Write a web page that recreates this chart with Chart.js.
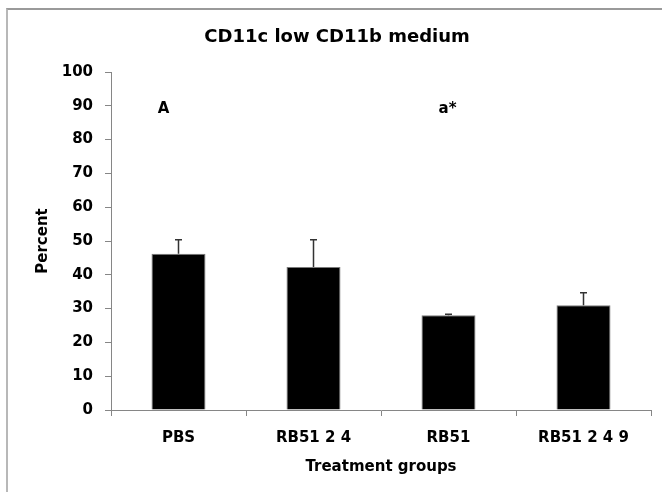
<!DOCTYPE html>
<html>
<head>
<meta charset="utf-8">
<script src="https://cdn.jsdelivr.net/npm/chart.js@4.4.1/dist/chart.umd.min.js"></script>
<style>
    body {
        margin: 0;
        background: #fff;
    }
    .frame {
        position: absolute;
        left: 6px;
        top: 8px;
        width: 700px;
        height: 520px;
        border-top: 2px solid #9a9a9a;
        border-left: 2px solid #b8b8b8;
    }
    .wrap {
        position: absolute;
        left: 0;
        top: 0;
        width: 662px;
        height: 492px;
    }
</style>
</head>
<body>
<div class="frame"></div>
<div class="wrap"><canvas id="graph-1"></canvas></div>
<script>
const groups = ["PBS", "RB51 2 4", "RB51", "RB51 2 4 9"];
const percent = [46.2, 42.3, 28.0, 31.0];
const stdErr = [4.2, 8.1, 0.3, 3.7];
const letters = ["A", "", "a*", ""];
const letterLevel = 89;
const yTicks = [0, 10, 20, 30, 40, 50, 60, 70, 80, 90, 100];
const chartTitle = "CD11c low CD11b medium";

const fontFamily = "'DejaVu Sans', sans-serif";
const axisColor = "#868686";

// upper error whiskers with a small cap
const errorBars = {
    id: "errorBars",
    afterDatasetsDraw(chart) {
        const { ctx } = chart;
        const meta = chart.getDatasetMeta(0);
        const y = chart.scales.y;
        ctx.save();
        ctx.strokeStyle = "#333";
        ctx.lineWidth = 1.5;
        meta.data.forEach((bar, i) => {
            const top = y.getPixelForValue(percent[i] + stdErr[i]);
            ctx.beginPath();
            ctx.moveTo(bar.x, bar.y);
            ctx.lineTo(bar.x, top);
            ctx.moveTo(bar.x - 3.5, top);
            ctx.lineTo(bar.x + 3.5, top);
            ctx.stroke();
        });
        ctx.restore();
    },
};

// chart heading + significance letters above the groups
const headings = {
    id: "headings",
    afterDraw(chart, args, opts) {
        const { ctx } = chart;
        const x = chart.scales.x;
        const y = chart.scales.y.getPixelForValue(letterLevel);
        ctx.save();
        ctx.fillStyle = "#000";
        ctx.textAlign = "center";
        ctx.textBaseline = "middle";

        ctx.font = "bold 18px " + fontFamily;
        ctx.fillText(chartTitle, opts.titleX, opts.titleY);

        ctx.font = "bold 15px " + fontFamily;
        letters.forEach((txt, i) => {
            if (!txt) return;
            ctx.fillText(txt, x.getPixelForValue(i) + opts.shift[i], y);
        });
        ctx.restore();
    },
};

const ctx = document.getElementById("graph-1");

new Chart(ctx, {
    type: "bar",
    data: {
        labels: groups,
        datasets: [
            {
                label: "Percent",
                data: percent,
                backgroundColor: "#000",
                borderColor: "#7a7a7a",
                borderWidth: 1,
                categoryPercentage: 1,
                barPercentage: 0.4,
            },
        ],
    },
    options: {
        responsive: true,
        maintainAspectRatio: false,
        animation: false,
        layout: {
            padding: { top: 72, right: 11, bottom: 0, left: 0 },
        },
        plugins: {
            legend: { display: false },
            tooltip: { enabled: false },
            title: { display: false },
            headings: { titleX: 337, titleY: 37, shift: [-15, 0, -1, 0] },
        },
        scales: {
            y: {
                min: 0,
                max: 100,
                afterBuildTicks(scale) {
                    scale.ticks = yTicks.map((v) => ({ value: v }));
                },
                afterFit(scale) {
                    scale.width = 111;
                },
                ticks: {
                    color: "#000",
                    padding: 12,
                    font: { size: 15, weight: "bold", family: fontFamily },
                },
                grid: {
                    drawOnChartArea: false,
                    drawTicks: true,
                    tickLength: 6,
                    color: axisColor,
                },
                border: { color: axisColor, width: 1 },
                title: {
                    display: true,
                    text: "Percent",
                    color: "#000",
                    font: { size: 15, weight: "bold", family: fontFamily, lineHeight: 1.2 },
                    padding: { top: 34, bottom: 0 },
                },
            },
            x: {
                afterFit(scale) {
                    scale.height = 82;
                },
                ticks: {
                    color: "#000",
                    padding: 13,
                    font: { size: 15, weight: "bold", family: fontFamily },
                },
                grid: {
                    offset: true,
                    drawOnChartArea: false,
                    drawTicks: true,
                    tickLength: 6,
                    color: axisColor,
                },
                border: { color: axisColor, width: 1 },
                title: {
                    display: true,
                    text: "Treatment groups",
                    color: "#000",
                    font: { size: 15, weight: "bold", family: fontFamily, lineHeight: 1.2 },
                    padding: { top: 0, bottom: 16 },
                },
            },
        },
    },
    plugins: [errorBars, headings],
});
</script>
</body>
</html>
